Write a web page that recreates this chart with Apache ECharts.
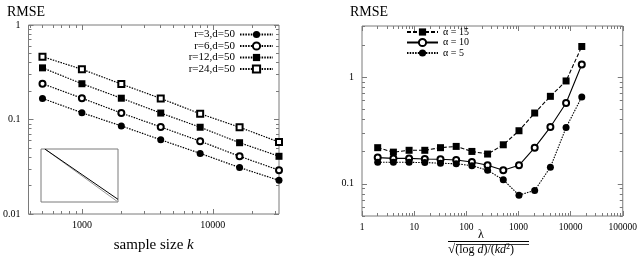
<!DOCTYPE html>
<html>
<head>
<meta charset="utf-8">
<script src="https://cdn.jsdelivr.net/npm/echarts@6/dist/echarts.min.js"></script>
<style>html,body{margin:0;padding:0;background:#fff}#c{width:640px;height:258px}</style>
</head>
<body>
<div id="c"></div>
<script>
// ---- Left chart data ----
const sampleSizes = [500, 1000, 2000, 4000, 8000, 16000, 32000];
const r3 = [0.167, 0.118, 0.0855, 0.061, 0.0438, 0.031, 0.0227];
const r6 = [0.239, 0.168, 0.117, 0.0834, 0.059, 0.0408, 0.0291];
const r12 = [0.352, 0.239, 0.168, 0.117, 0.0828, 0.0568, 0.0408];
const r24 = [0.462, 0.340, 0.237, 0.167, 0.115, 0.0828, 0.0577];
const leftNames = ['r=3,d=50', 'r=6,d=50', 'r=12,d=50', 'r=24,d=50'];
const leftXMajor = [1000, 10000];
const leftXMinor = [400, 500, 600, 700, 800, 900, 2000, 3000, 4000, 5000, 6000, 7000, 8000, 9000, 20000, 30000];
const leftYMajor = [0.01, 0.1, 1];
const leftYMinor = [0.02, 0.03, 0.04, 0.05, 0.06, 0.07, 0.08, 0.09, 0.2, 0.3, 0.4, 0.5, 0.6, 0.7, 0.8, 0.9];
// inset sketch lines
const insetX = [0.05, 1];
const insetA = [1, 0.05];
const insetB = [1, 0.0];

// ---- Right chart data ----
const lambdas = [2, 4, 8, 16, 32, 64, 128, 256, 512, 1024, 2048, 4096, 8192, 16384];
const a15 = [0.218, 0.198, 0.206, 0.206, 0.218, 0.224, 0.201, 0.190, 0.232, 0.314, 0.460, 0.659, 0.918, 1.93];
const a10 = [0.176, 0.173, 0.173, 0.171, 0.170, 0.167, 0.160, 0.149, 0.134, 0.149, 0.218, 0.340, 0.570, 1.31];
const a5 = [0.159, 0.159, 0.159, 0.158, 0.156, 0.154, 0.148, 0.134, 0.109, 0.0784, 0.0867, 0.143, 0.336, 0.650];
const rightNames = ['α = 15', 'α = 10', 'α = 5'];
const rightXMajor = [1, 10, 100, 1000, 10000, 100000];
const rightXMinor = [];
[1, 10, 100, 1000, 10000].forEach(function (d) { for (let m = 2; m <= 9; m++) rightXMinor.push(m * d); });
const rightYMajor = [0.1, 1];
const rightYMinor = [0.05, 0.06, 0.07, 0.08, 0.09, 0.2, 0.3, 0.4, 0.5, 0.6, 0.7, 0.8, 0.9, 2, 3];

const SERIF = 'Liberation Serif';
const GRAY = '#7a7a7a';

function axes(dim, gridIndex, min, max, major, minor, labelOpt) {
  const posA = dim === 'x' ? 'bottom' : 'left';
  const posB = dim === 'x' ? 'top' : 'right';
  function ax(pos, ticks, len, label) {
    return {
      type: 'log', logBase: 10, gridIndex: gridIndex, position: pos, min: min, max: max,
      axisLine: { show: false }, splitLine: { show: false }, minorTick: { show: false },
      axisTick: { show: true, inside: true, length: len, customValues: ticks, lineStyle: { color: GRAY, width: 1 } },
      axisLabel: label ? Object.assign({ show: true, customValues: major, color: '#000', fontFamily: SERIF,
        formatter: function (v) { return String(v); } }, labelOpt) : { show: false }
    };
  }
  return [ax(posA, major, 5, true), ax(posA, minor, 3, false), ax(posB, major, 5, false), ax(posB, minor, 3, false)];
}

const xAxes = [].concat(
  axes('x', 0, 391, 32000, leftXMajor, leftXMinor, { fontSize: 10, margin: 6 }),
  axes('x', 1, 1, 100000, rightXMajor, rightXMinor, { fontSize: 9.5, margin: 6 }),
  [{ type: 'value', gridIndex: 2, min: 0, max: 1, show: false }]
);
const yAxes = [].concat(
  axes('y', 0, 0.01, 1, leftYMajor, leftYMinor, { fontSize: 10, margin: 8 }),
  axes('y', 1, 0.05, 3, rightYMajor, rightYMinor, { fontSize: 10, margin: 8 }),
  [{ type: 'value', gridIndex: 2, min: 0, max: 1, show: false }]
);
// main axis names
xAxes[0].name = '{a|sample size }{b|k}';
xAxes[0].nameLocation = 'middle';
xAxes[0].nameGap = 24;
xAxes[0].nameTextStyle = { rich: { a: { fontFamily: SERIF, fontSize: 15, color: '#000' }, b: { fontFamily: SERIF, fontSize: 15, fontStyle: 'italic', color: '#000' } } };

function pairs(xs, ys) { return xs.map(function (x, i) { return [x, ys[i]]; }); }

const leftData = [r3, r6, r12, r24];
const leftSymbols = ['circle', 'emptyCircle', 'rect', 'emptyRect'];
const leftSizes = [7, 6, 7, 6];
const series = [];
leftData.forEach(function (d, i) {
  series.push({
    name: leftNames[i], type: 'line', xAxisIndex: 0, yAxisIndex: 0,
    data: pairs(sampleSizes, d), symbol: leftSymbols[i], symbolSize: leftSizes[i],
    lineStyle: { color: '#000', width: 1.2, type: [1.5, 1.2] },
    itemStyle: { color: '#000', borderWidth: 1.5 }, z: 3
  });
});
const rightData = [a15, a10, a5];
const rightSymbols = ['rect', 'emptyCircle', 'circle'];
const rightSizes = [7, 6, 7];
const rightDash = [[4, 2], 'solid', [1.5, 1.2]];
rightData.forEach(function (d, i) {
  series.push({
    name: rightNames[i], type: 'line', xAxisIndex: 4, yAxisIndex: 4,
    data: pairs(lambdas, d), symbol: rightSymbols[i], symbolSize: rightSizes[i],
    lineStyle: { color: '#000', width: 1.1, type: rightDash[i] },
    itemStyle: { color: '#000', borderWidth: 1.5 }, z: 3
  });
});
series.push({ type: 'line', xAxisIndex: 8, yAxisIndex: 8, data: pairs(insetX, insetB), symbol: 'none', lineStyle: { color: '#999', width: 1 }, silent: true });
series.push({ type: 'line', xAxisIndex: 8, yAxisIndex: 8, data: pairs(insetX, insetA), symbol: 'none', lineStyle: { color: '#000', width: 1 }, silent: true });

const chart = echarts.init(document.getElementById('c'), null, { renderer: 'canvas' });
chart.setOption({
  animation: false,
  backgroundColor: '#fff',
  title: [
    { text: 'RMSE', left: 2, top: 0, textStyle: { fontFamily: SERIF, fontSize: 14, fontWeight: 'normal', color: '#000' } },
    { text: 'RMSE', left: 345, top: 0, textStyle: { fontFamily: SERIF, fontSize: 14, fontWeight: 'normal', color: '#000' } }
  ],
  grid: [
    { left: 25, top: 25, width: 254, height: 191, show: true, borderColor: GRAY, borderWidth: 1, backgroundColor: 'transparent' },
    { left: 362, top: 26, width: 261, height: 190, show: true, borderColor: GRAY, borderWidth: 1, backgroundColor: 'transparent' },
    { left: 41, top: 149, width: 77, height: 53, show: true, borderColor: GRAY, borderWidth: 1, backgroundColor: 'transparent' }
  ],
  legend: [
    { data: leftNames, orient: 'vertical', align: 'right', right: 366, top: 29, padding: 0, itemGap: 0.5,
      itemWidth: 33, itemHeight: 9, textStyle: { fontFamily: SERIF, fontSize: 11, color: '#000', lineHeight: 10 } },
    { data: rightNames, orient: 'vertical', align: 'left', left: 406, top: 27, padding: 0, itemGap: 0.5,
      itemWidth: 31, itemHeight: 9, textStyle: { fontFamily: SERIF, fontSize: 10, color: '#000', lineHeight: 10 } }
  ],
  xAxis: xAxes,
  yAxis: yAxes,
  series: series,
  graphic: [
    { type: 'text', left: 478, top: 229, style: { text: 'λ', font: '12px "Liberation Serif"', fill: '#000' } },
    { type: 'line', shape: { x1: 448, y1: 241.5, x2: 529, y2: 241.5 }, style: { stroke: '#000', lineWidth: 1 } },
    { type: 'text', left: 448, top: 243, style: { text: '{r|√}{o|(log }{i|d}{o|)/(}{i|kd}{s|2}{o|)}',
      rich: { r: { font: '13px "Liberation Serif"', fill: '#000' }, o: { font: '12px "Liberation Serif"', fill: '#000' },
        i: { font: 'italic 12px "Liberation Serif"', fill: '#000' }, s: { font: '8px "Liberation Serif"', fill: '#000', verticalAlign: 'top', padding: [0, 0, 6, 0] } } } },
    { type: 'line', shape: { x1: 456, y1: 244.5, x2: 529, y2: 244.5 }, style: { stroke: '#000', lineWidth: 0.8 } }
  ]
});
</script>
</body>
</html>
